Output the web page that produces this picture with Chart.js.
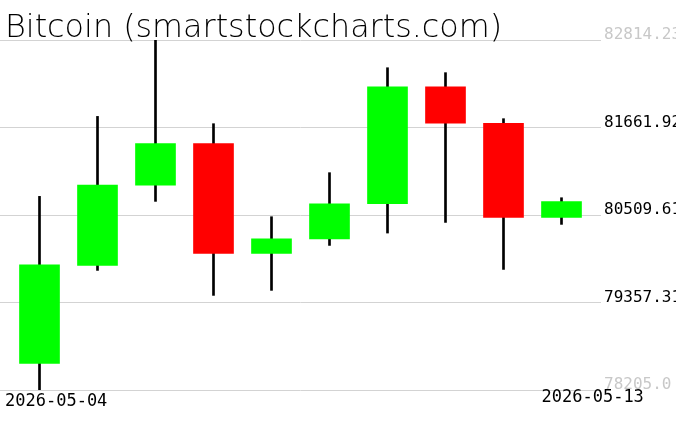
<!DOCTYPE html>
<html>
<head>
<meta charset="utf-8">
<script src="https://cdn.jsdelivr.net/npm/chart.js@4/dist/chart.umd.min.js"></script>
<style>
  html, body { margin: 0; padding: 0; background: #fff; }
  #wrap { width: 676px; height: 431px; }
</style>
</head>
<body>
<div id="wrap"><canvas id="candleChart"></canvas></div>
<script>
    let dates = ['2026-05-04','2026-05-05','2026-05-06','2026-05-07','2026-05-08','2026-05-09','2026-05-10','2026-05-11','2026-05-12','2026-05-13'];
    let opens  = [78555, 79846, 80902, 81451, 80004, 80195, 80658, 82199, 81718, 80478];
    let highs  = [80755, 81808, 82814.23, 81712, 80487, 81067, 82449, 82384, 81778, 80737];
    let lows   = [78205.0, 79780, 80689, 79451, 79517, 80109, 80272, 80412, 79793, 80386];
    let closes = [79855, 80902, 81451, 80004, 80195, 80658, 82199, 81718, 80478, 80685];
    let yTicks = [78205.0, 79357.31, 80509.61, 81661.92, 82814.23];
    let yTickLabels = ['78205.0', '79357.31', '80509.61', '81661.92', '82814.23'];
    let title = 'Bitcoin (smartstockcharts.com)';

    let bodies = dates.map((d, i) => ({x: i, y: [opens[i], closes[i]]}));
    let wicks = dates.map((d, i) => ({x: i, y: [lows[i], highs[i]]}));
    let bodyColors = dates.map((d, i) => closes[i] >= opens[i] ? '#00ff00' : '#ff0000');

    // title and the two date labels
    let textPlugin = {
        id: 'texts',
        afterDraw(chart) {
            let c = chart.ctx;
            let xs = chart.scales.x;
            c.save();
            c.fillStyle = '#000';
            c.textBaseline = 'alphabetic';
            c.textAlign = 'left';
            c.font = '200 31.8px "DejaVu Sans"';
            c.fillText(title, 5, 37);
            c.font = '17px "DejaVu Sans Mono"';
            c.fillText(dates[0], xs.getPixelForValue(0) - 34.5, 406);
            c.fillText(dates[dates.length - 1], xs.getPixelForValue(dates.length - 1) - 20, 402);
            c.restore();
        }
    };

    let ctx = document.getElementById('candleChart').getContext('2d');
    let chart = new Chart(ctx, {
        type: 'bar',
        data: {
            datasets: [
                {
                    label: 'body',
                    data: bodies,
                    backgroundColor: bodyColors,
                    borderWidth: 0,
                    barThickness: 40,
                    grouped: false
                },
                {
                    label: 'wick',
                    data: wicks,
                    backgroundColor: '#000',
                    borderWidth: 0,
                    barThickness: 2,
                    grouped: false
                }
            ]
        },
        options: {
            responsive: true,
            maintainAspectRatio: false,
            animation: false,
            layout: { padding: { top: 40, bottom: 41, left: 0, right: 0 } },
            plugins: {
                legend: { display: false },
                tooltip: { enabled: false }
            },
            scales: {
                x: {
                    type: 'linear',
                    display: false,
                    offset: false,
                    min: -39.5 / 58,
                    max: (601 - 39.5) / 58
                },
                y: {
                    position: 'right',
                    z: 1,
                    min: 78205.0,
                    max: 82814.23,
                    afterBuildTicks: scale => { scale.ticks = yTicks.map(v => ({value: v})); },
                    afterFit: scale => { scale.width = 75; },
                    border: { display: false },
                    grid: { color: '#d3d3d3', lineWidth: 1, drawTicks: false },
                    ticks: {
                        padding: 3,
                        labelOffset: -5,
                        font: { family: '"DejaVu Sans Mono"', size: 16 },
                        color: c => (c.index === 0 || c.index === yTicks.length - 1) ? '#c8c8c8' : '#000',
                        callback: (v, i) => yTickLabels[i]
                    }
                }
            }
        },
        plugins: [textPlugin]
    });
</script>
</body>
</html>
